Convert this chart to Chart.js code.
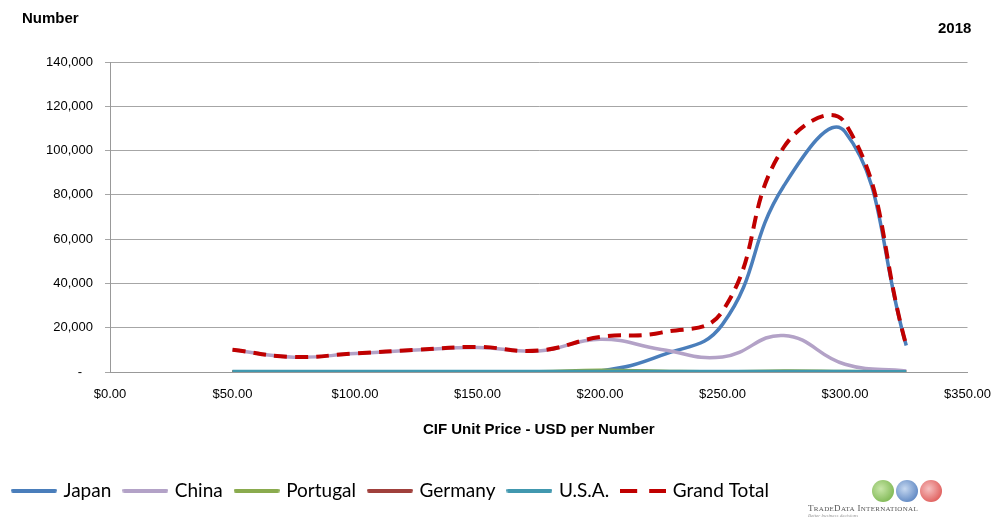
<!DOCTYPE html>
<html>
<head>
<meta charset="utf-8">
<script src="https://cdn.jsdelivr.net/npm/chart.js@4"></script>
<style>
  body { margin: 0; background: #fff; }
  #wrap { position: relative; width: 1001px; height: 525px; }
  .lbl { position: absolute; font-family: "Liberation Sans", Arial, sans-serif; font-weight: bold; font-size: 15px; color: #000; }
  #logo { position: absolute; left: 808px; top: 480px; width: 140px; font-family: "Liberation Serif", serif; }
  #logo .globes { display: flex; gap: 2px; margin-left: 64px; }
  #logo .globes span { width: 22px; height: 22px; border-radius: 50%; display: inline-block; }
  #logo .name { font-size: 9px; color: #555; letter-spacing: 0.3px; margin-top: 1px; }
  #logo .tag { font-size: 5px; color: #999; font-style: italic; }
</style>
</head>
<body>
<div id="wrap">
  <canvas id="chart" width="1001" height="525"></canvas>
  <div class="lbl" style="left:22px; top:9px;">Number</div>
  <div class="lbl" style="left:938px; top:19px;">2018</div>
  <div id="logo">
    <div class="globes">
      <span style="background:radial-gradient(circle at 40% 40%, #c8e6a8, #6aab3c);"></span>
      <span style="background:radial-gradient(circle at 40% 40%, #c6d8f0, #3f6fb5);"></span>
      <span style="background:radial-gradient(circle at 40% 40%, #f6c0c0, #d9413e);"></span>
    </div>
    <div class="name">T<span style="font-size:7px">RADE</span>D<span style="font-size:7px">ATA</span> I<span style="font-size:7px">NTERNATIONAL</span></div>
    <div class="tag">Better business decisions</div>
  </div>
</div>
<script>
// CIF unit price (USD per number)
const prices = [50, 75, 100, 125, 150, 175, 200, 225, 250, 275, 300, 325];
const japan = [0, 0, 0, 0, 0, 0, 500, 7500, 21500, 84000, 108500, 12000];
const china = [10000, 6700, 8300, 9900, 11100, 9500, 14800, 10200, 6800, 16500, 3500, 500];
const portugal = [0, 0, 0, 0, 0, 100, 800, 300, 0, 400, 200, 0];
const germany = [0, 0, 0, 0, 0, 0, 100, 0, 0, 100, 0, 0];
const usa = [200, 200, 200, 200, 200, 200, 200, 200, 200, 200, 200, 100];
const grandTotal = [10000, 6800, 8400, 10000, 11300, 9700, 15800, 17800, 27500, 101500, 112500, 12000];

function pts(vals) {
  return prices.map((p, i) => ({ x: p, y: vals[i] }));
}

// small line swatch for the legend
function swatch(color, dash) {
  const c = document.createElement("canvas");
  c.width = 46;
  c.height = 4;
  const g = c.getContext("2d");
  g.strokeStyle = color;
  g.lineWidth = 4;
  g.lineCap = dash ? "butt" : "round";
  if (dash) g.setLineDash(dash);
  g.beginPath();
  g.moveTo(dash ? 0 : 2, 2);
  g.lineTo(dash ? 46 : 44, 2);
  g.stroke();
  return c;
}

function line(label, vals, color, order, extra) {
  return Object.assign({
    label: label,
    data: pts(vals),
    borderColor: color,
    backgroundColor: color,
    borderWidth: 3.5,
    pointRadius: 0,
    pointStyle: swatch(color),
    tension: 0.45,
    order: order
  }, extra || {});
}

const ctx = document.getElementById("chart");
const chart = new Chart(ctx, {
  type: "line",
  data: {
    datasets: [
      line("Japan", japan, "#4a7ebb", 5),
      line("China", china, "#b3a2c7", 4),
      line("Portugal", portugal, "#8aab4e", 3),
      line("Germany", germany, "#a0403c", 2),
      line("U.S.A.", usa, "#4198af", 1),
      line("Grand Total", grandTotal, "#c00000", 0, {
        borderDash: [13, 8],
        borderWidth: 4,
        pointStyle: swatch("#c00000", [17, 12])
      })
    ]
  },
  options: {
    responsive: false,
    animation: false,
    layout: { padding: { left: 0, right: 33, top: 62, bottom: 15 } },
    plugins: {
      legend: {
        position: "bottom",
        align: "start",
        labels: {
          usePointStyle: true,
          pointStyleWidth: 40,
          boxHeight: 4,
          padding: 14,
          color: "#000",
          font: { family: "Lato, 'Open Sans', sans-serif", size: 19 },
          sort: (a, b) => a.datasetIndex - b.datasetIndex
        }
      },
      tooltip: { enabled: false }
    },
    scales: {
      x: {
        type: "linear",
        min: 0,
        max: 350,
        ticks: {
          stepSize: 50,
          color: "#000",
          font: { family: "'Liberation Sans', Arial, sans-serif", size: 13 },
          padding: 10,
          callback: v => "$" + v.toFixed(2)
        },
        grid: { display: false, drawOnChartArea: false, drawTicks: true, tickLength: 5, color: "#999" },
        border: { color: "#999", width: 1 },
        title: {
          display: true,
          text: "CIF Unit Price - USD per Number",
          color: "#000",
          font: { family: "'Liberation Sans', Arial, sans-serif", size: 15, weight: "bold" },
          padding: { top: 12, bottom: 28 }
        },
        afterFit: s => { s.height = 95; }
      },
      y: {
        min: 0,
        max: 140000,
        ticks: {
          stepSize: 20000,
          color: "#000",
          font: { family: "'Liberation Sans', Arial, sans-serif", size: 13 },
          padding: 12,
          callback: v => v === 0 ? "-   " : v.toLocaleString("en-US")
        },
        grid: { color: "#a6a6a6", lineWidth: 1, tickLength: 5 },
        border: { color: "#999", width: 1 },
        afterFit: s => { s.width = 110; }
      }
    }
  }
});
</script>
</body>
</html>
